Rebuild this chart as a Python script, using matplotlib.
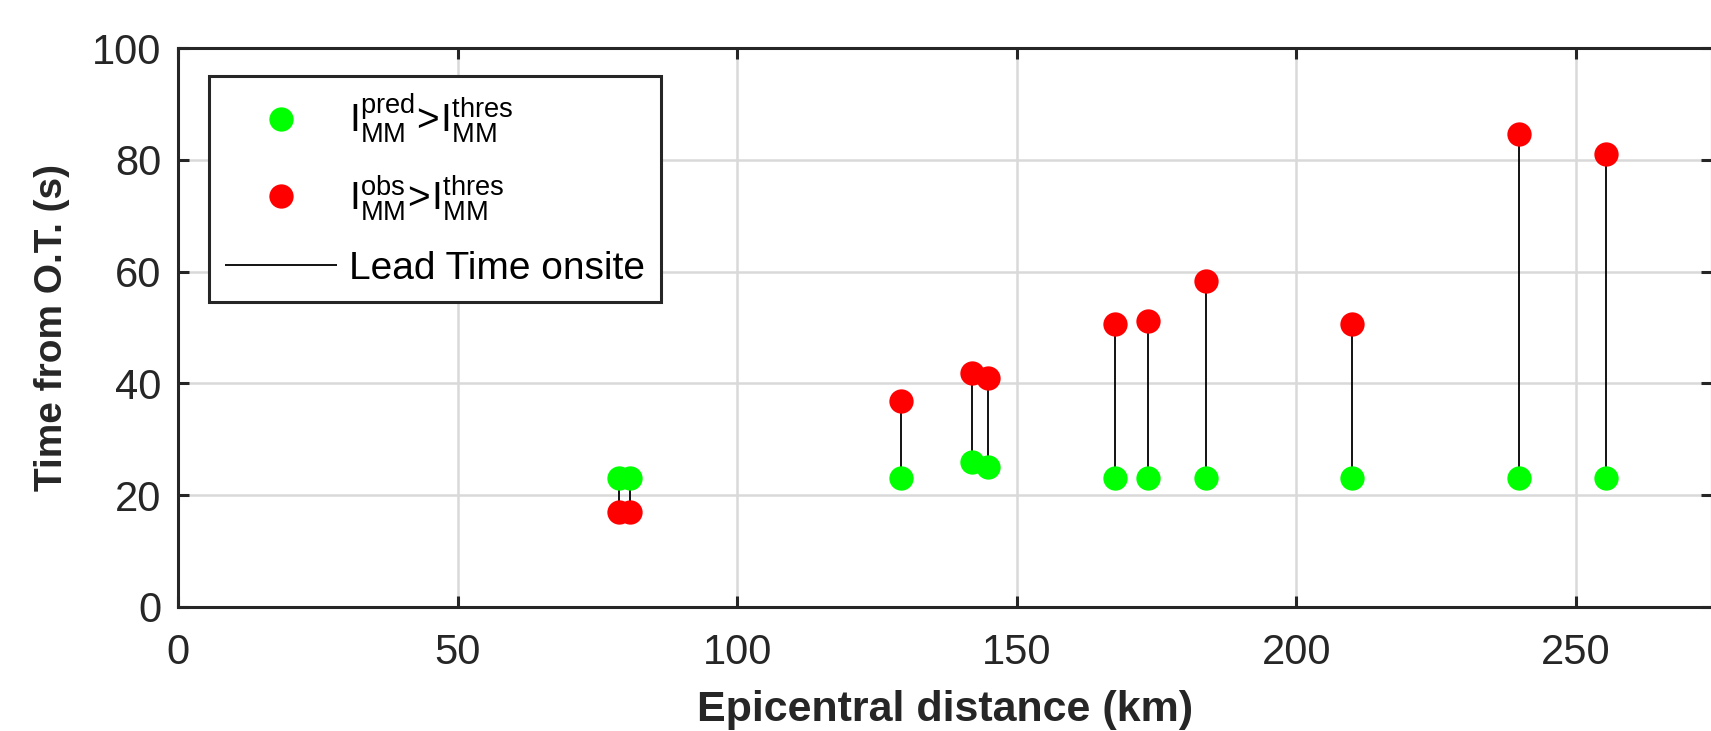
import numpy as np
import matplotlib
matplotlib.use("Agg")
import matplotlib.pyplot as plt

# ---- data ----
distance = [78.9, 80.9, 129.3, 142.0, 144.9, 167.6, 173.4, 183.8, 210.0, 239.8, 255.3]
t_pred = [23.0, 23.0, 23.0, 25.9, 25.0, 23.0, 23.0, 23.0, 23.0, 23.0, 23.0]
t_obs = [17.0, 17.0, 36.9, 41.9, 41.0, 50.7, 51.1, 58.3, 50.7, 84.7, 81.1]

xticks = [0, 50, 100, 150, 200, 250]
yticks = [0, 20, 40, 60, 80, 100]

plt.rcParams["font.family"] = ["Liberation Sans", "DejaVu Sans"]
plt.rcParams["mathtext.fontset"] = "custom"
plt.rcParams["mathtext.rm"] = "Liberation Sans"
plt.rcParams["mathtext.it"] = "Liberation Sans:italic"
plt.rcParams["mathtext.bf"] = "Liberation Sans:bold"

dark = "#262626"
W, H = 1711, 731
fig = plt.figure(figsize=(W / 100, H / 100), dpi=100)
ax = fig.add_axes([178 / W, 124 / H, (1712 - 178) / W, (607 - 48) / H])

# ---- marks ----
ax.vlines(distance, t_pred, t_obs, colors="k", linewidth=1.3, zorder=2,
          label="Lead Time onsite")
ax.plot(distance, t_pred, "o", color="#00ff00", markersize=17.5, markeredgewidth=0,
        linestyle="none", zorder=3,
        label=r"$\mathrm{I}_{\mathrm{MM}}^{\mathrm{pred}}\!>\!\mathrm{I}_{\mathrm{MM}}^{\mathrm{thres}}$")
ax.plot(distance, t_obs, "o", color="#ff0000", markersize=17.5, markeredgewidth=0,
        linestyle="none", zorder=4,
        label=r"$\mathrm{I}_{\mathrm{MM}}^{\mathrm{obs}}\!>\!\mathrm{I}_{\mathrm{MM}}^{\mathrm{thres}}$")

# ---- axes ----
ax.set_xlim(0, (1712 - 178) / 5.592)
ax.set_ylim(0, 100)
ax.set_xticks(xticks)
ax.set_yticks(yticks)
ax.grid(True, color="#d9d9d9", linewidth=1.8, zorder=0)
ax.set_axisbelow(True)
for s in ax.spines.values():
    s.set_linewidth(2.2)
    s.set_color(dark)
ax.tick_params(direction="in", length=8, width=2.2, colors=dark,
               top=True, right=True, labelsize=30)
ax.tick_params(axis="x", pad=19)
ax.tick_params(axis="y", pad=12)

ax.set_xlabel("Epicentral distance (km)", fontsize=31, fontweight="bold",
              color=dark, labelpad=12)
ax.set_ylabel("Time from O.T. (s)", fontsize=28, fontweight="bold",
              color=dark, labelpad=16)

# ---- legend ----
handles, labels = ax.get_legend_handles_labels()
order = [1, 2, 0]
leg = ax.legend([handles[i] for i in order], [labels[i] for i in order],
                loc="upper left", bbox_to_anchor=(0.0202, 0.950),
                bbox_transform=ax.transAxes, borderaxespad=0,
                fontsize=28, handlelength=2.9, handletextpad=0.3,
                borderpad=0.4, labelspacing=0.72, fancybox=False,
                framealpha=1, edgecolor=dark)
leg.get_frame().set_linewidth(2.2)

fig.savefig("out.png", dpi=100)
